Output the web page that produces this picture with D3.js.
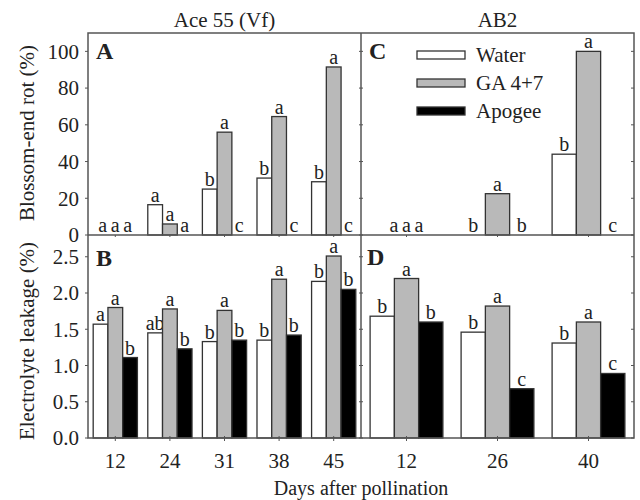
<!DOCTYPE html>
<html>
<head>
<meta charset="utf-8">
<script src="https://cdn.jsdelivr.net/npm/d3@7"></script>
<style>
  body { margin: 0; background: #fff; }
  text { font-family: "Liberation Serif", "Times New Roman", serif; fill: #222; }
</style>
</head>
<body>
<svg id="chart" width="640" height="500"></svg>
<script>
var series = ["Water", "GA 4+7", "Apogee"],
	colors = ["#ffffff", "#b9b9b9", "#000000"];

// Ace 55 (Vf)
var daysAce = ["12", "24", "31", "38", "45"],
	berAce = [[0, 0, 0], [16.5, 6, 0], [25, 56, 0], [31, 64.5, 0], [29, 91.5, 0]],
	berAceLetters = [["a", "a", "a"], ["a", "a", "a"], ["b", "a", "c"], ["b", "a", "c"], ["b", "a", "c"]],
	elAce = [[1.57, 1.80, 1.11], [1.45, 1.78, 1.23], [1.33, 1.76, 1.35], [1.35, 2.19, 1.42], [2.16, 2.51, 2.05]],
	elAceLetters = [["a", "a", "b"], ["ab", "a", "b"], ["b", "a", "b"], ["b", "a", "b"], ["b", "a", "b"]];

// AB2
var daysAB = ["12", "26", "40"],
	berAB = [[0, 0, 0], [0, 22.5, 0], [44, 100, 0]],
	berABLetters = [["a", "a", "a"], ["b", "a", "b"], ["b", "a", "c"]],
	elAB = [[1.68, 2.20, 1.60], [1.46, 1.82, 0.68], [1.31, 1.60, 0.89]],
	elABLetters = [["b", "a", "b"], ["b", "a", "c"], ["b", "a", "c"]];

var berTicks = [0, 20, 40, 60, 80, 100],
	elTicks = [0, 0.5, 1.0, 1.5, 2.0, 2.5];

var svg = d3.select("#chart");
var pLeft = 88, pMid = 361, pRight = 634, pTop = 33, pSplit = 235, pBottom = 438;
var frameColor = "#555";

var yTop = d3.scaleLinear().domain([0, 110]).range([pSplit, pTop]);
var yBot = d3.scaleLinear().domain([0, 2.8]).range([pBottom, pSplit]);

var xAce = d3.scaleBand().domain(daysAce).range([pLeft, pMid]).paddingInner(0.19).paddingOuter(0.095);
var xAB = d3.scaleBand().domain(daysAB).range([pMid, pRight]).paddingInner(0.2).paddingOuter(0.1);

function drawBars(x, y, days, values, letters) {
	var inner = d3.scaleBand().domain(d3.range(series.length)).range([0, x.bandwidth()]);
	var g = svg.append("g");
	var groups = g.selectAll(".grp")
		.data(days)
		.enter()
		.append("g")
		.attr("transform", function (d) { return "translate(" + x(d) + ",0)"; });
	groups.each(function (d, i) {
		var grp = d3.select(this);
		var allZero = d3.max(values[i]) === 0;
		values[i].forEach(function (v, j) {
			if (v > 0) {
				grp.append("rect")
					.attr("x", inner(j))
					.attr("y", y(v))
					.attr("width", inner.bandwidth())
					.attr("height", y(0) - y(v))
					.attr("fill", colors[j])
					.attr("stroke", "#333")
					.attr("stroke-width", 1.3);
			}
			// letters of an all-zero group sit close together
			var lx = allZero ? x.bandwidth() / 2 + (j - 1) * 12.5 : inner(j) + inner.bandwidth() / 2;
			grp.append("text")
				.attr("x", lx)
				.attr("y", y(v) - 3)
				.attr("text-anchor", "middle")
				.attr("font-size", "20px")
				.text(letters[i][j]);
		});
	});
}

drawBars(xAce, yTop, daysAce, berAce, berAceLetters);
drawBars(xAB, yTop, daysAB, berAB, berABLetters);
drawBars(xAce, yBot, daysAce, elAce, elAceLetters);
drawBars(xAB, yBot, daysAB, elAB, elABLetters);

// frames
svg.append("rect")
	.attr("x", pLeft).attr("y", pTop)
	.attr("width", pRight - pLeft).attr("height", pBottom - pTop)
	.attr("fill", "none").attr("stroke", frameColor).attr("stroke-width", 1.5);
svg.append("line")
	.attr("x1", pLeft).attr("x2", pRight).attr("y1", pSplit).attr("y2", pSplit)
	.attr("stroke", frameColor).attr("stroke-width", 1.5);
svg.append("line")
	.attr("x1", pMid).attr("x2", pMid).attr("y1", pTop).attr("y2", pBottom)
	.attr("stroke", frameColor).attr("stroke-width", 1.5);

// y ticks
function yTicks(y, ticks, fmt) {
	ticks.forEach(function (t) {
		var yy = y(t);
		svg.append("line").attr("x1", pLeft - 3).attr("x2", pLeft).attr("y1", yy).attr("y2", yy).attr("stroke", frameColor);
		svg.append("line").attr("x1", pMid - 2).attr("x2", pMid + 2).attr("y1", yy).attr("y2", yy).attr("stroke", frameColor);
		svg.append("line").attr("x1", pRight - 3).attr("x2", pRight).attr("y1", yy).attr("y2", yy).attr("stroke", frameColor);
		svg.append("text")
			.attr("x", pLeft - 9)
			.attr("y", yy)
			.attr("dy", "0.35em")
			.attr("text-anchor", "end")
			.attr("font-size", "21px")
			.text(fmt(t));
	});
}
yTicks(yTop, berTicks, d3.format("d"));
yTicks(yBot, elTicks, d3.format(".1f"));

// x ticks
function xTicks(x, days) {
	days.forEach(function (d) {
		var xx = x(d) + x.bandwidth() / 2;
		svg.append("line").attr("x1", xx).attr("x2", xx).attr("y1", pBottom - 2).attr("y2", pBottom + 3).attr("stroke", frameColor);
		svg.append("line").attr("x1", xx).attr("x2", xx).attr("y1", pSplit).attr("y2", pSplit + 2).attr("stroke", frameColor);
		svg.append("text")
			.attr("x", xx)
			.attr("y", 468)
			.attr("text-anchor", "middle")
			.attr("font-size", "21px")
			.text(d);
	});
}
xTicks(xAce, daysAce);
xTicks(xAB, daysAB);

// panel letters
[["A", 96, 59], ["B", 96, 266], ["C", 369, 59], ["D", 367, 265]].forEach(function (p) {
	svg.append("text")
		.attr("x", p[1]).attr("y", p[2])
		.attr("font-size", "24px").attr("font-weight", "bold")
		.text(p[0]);
});

// titles and axis labels
svg.append("text").attr("x", (pLeft + pMid) / 2).attr("y", 27).attr("text-anchor", "middle")
	.attr("font-size", "21px").text("Ace 55 (Vf)");
svg.append("text").attr("x", (pMid + pRight) / 2).attr("y", 27).attr("text-anchor", "middle")
	.attr("font-size", "21px").text("AB2");
svg.append("text").attr("transform", "translate(34,133) rotate(-90)").attr("text-anchor", "middle")
	.attr("font-size", "21px").text("Blossom-end rot (%)");
svg.append("text").attr("transform", "translate(34,341) rotate(-90)").attr("text-anchor", "middle")
	.attr("font-size", "21px").text("Electrolyte leakage (%)");
svg.append("text").attr("x", pMid).attr("y", 495).attr("text-anchor", "middle")
	.attr("font-size", "20px").text("Days after pollination");

// legend
var legend = svg.append("g").attr("transform", "translate(417,55)");
series.forEach(function (s, i) {
	var row = legend.append("g").attr("transform", "translate(0," + i * 28 + ")");
	row.append("rect")
		.attr("x", 0).attr("y", -4)
		.attr("width", 48).attr("height", 8)
		.attr("fill", colors[i]).attr("stroke", "#333").attr("stroke-width", 1.3);
	row.append("text")
		.attr("x", 59).attr("y", 0).attr("dy", "0.35em")
		.attr("font-size", "21px")
		.text(s);
});
</script>
</body>
</html>
